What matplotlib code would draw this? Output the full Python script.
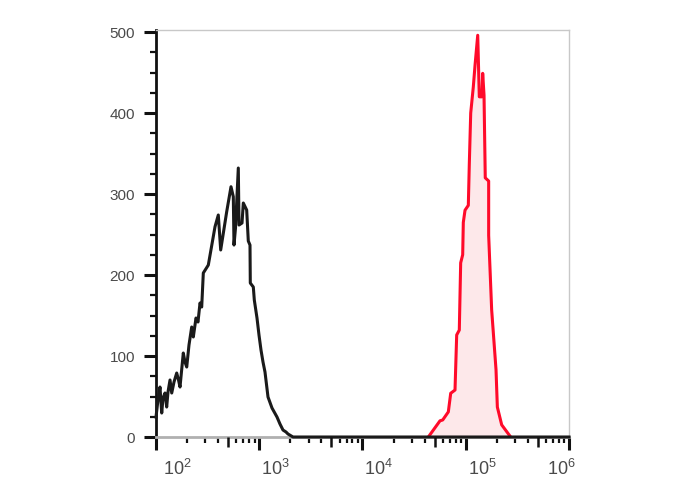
import numpy as np
import matplotlib
matplotlib.use("Agg")
import matplotlib.pyplot as plt
from matplotlib.ticker import FixedLocator, MultipleLocator, NullFormatter
from matplotlib.transforms import ScaledTranslation

# control (black) histogram
ctrl_x = [100, 104.5, 109.3, 113.6, 116.9, 122.2, 126.9, 130.7, 136.7, 142.0,
          149.4, 158.7, 165.2, 170.8, 183.8, 190.9, 198.4, 208.7, 221.7, 229.8,
          244.0, 255.1, 266.8, 277.1, 287.2, 321.1, 372.8, 401.2, 423.2, 483.8,
          532.6, 560.7, 569.4, 588.8, 626.8, 636.8, 680.8, 700.9, 755.8, 783.2,
          813.5, 819.0, 875.9, 895.7, 951.0, 994.4, 1039.7, 1087.2, 1136.8, 1215.5,
          1328.9, 1485.4, 1588.5, 1698.2, 1815.6, 1898.6, 2123.5, 1e6]
ctrl_y = [24.7, 45.7, 61.7, 29.6, 48.1, 54.3, 37.0, 55.6, 70.4, 54.3,
          67.9, 79.0, 70.4, 61.7, 103.7, 92.6, 86.4, 113.6, 135.8, 123.5,
          146.9, 142.0, 165.4, 160.5, 202.5, 212.3, 259.6, 274.1, 230.9, 278.1,
          309.0, 296.7, 237.0, 258.0, 332.1, 261.7, 264.2, 288.9, 280.2, 242.0,
          237.0, 190.1, 185.2, 169.1, 146.9, 125.9, 107.4, 92.6, 80.2, 49.4,
          35.8, 24.7, 16.0, 8.6, 6.2, 3.7, 0, 0]

# stained sample (red) histogram
stain_x = [43400, 56300, 59800, 67800, 71500, 78700, 81700, 86600, 89300, 93400,
           94700, 98400, 105900, 108200, 111700, 118300, 123000, 130600, 135300, 143600,
           145900, 150300, 154500, 166700, 166700, 178200, 196400, 202300, 222900, 272300]
stain_y = [0, 20, 21, 31, 54, 58, 126, 132, 215, 225,
           265, 280, 286, 336, 400, 432, 459, 496, 420, 420,
           449, 422, 320, 316, 249, 157, 83, 37, 15, 0]

x_ticks = [1e2, 1e3, 1e4, 1e5, 1e6]
x_labels = [r"$10^{2}$", r"$10^{3}$", r"$10^{4}$", r"$10^{5}$", r"$10^{6}$"]
y_ticks = [0, 100, 200, 300, 400, 500]

plt.rcParams['font.family'] = ['Liberation Sans', 'DejaVu Sans']
plt.rcParams['mathtext.fontset'] = 'custom'
plt.rcParams['mathtext.rm'] = 'Liberation Sans'
plt.rcParams['mathtext.it'] = 'Liberation Sans'

fig = plt.figure(figsize=(6.88, 4.90), dpi=100)
ax = fig.add_axes([156 / 688, 53 / 490, 413 / 688, 407 / 490])

ax.fill_between(stain_x, stain_y, 0, color='#fde8ea', zorder=1)
ax.plot(ctrl_x, ctrl_y, color='#1a1a1a', lw=2.2, zorder=3, clip_on=False)
ax.plot(stain_x, stain_y, color='#ff0a2a', lw=2.2, zorder=2)

ax.set_xscale('log')
ax.set_xlim(1e2, 1e6)
ax.set_ylim(0, 502.5)

ax.xaxis.set_major_locator(FixedLocator(x_ticks))
ax.set_xticklabels(x_labels)
ax.xaxis.set_minor_locator(FixedLocator(
    [m * 10 ** e for e in range(2, 6) for m in (2, 3, 4, 6, 7, 8, 9)]))
ax.xaxis.set_minor_formatter(NullFormatter())
ax.yaxis.set_major_locator(FixedLocator(y_ticks))
ax.yaxis.set_minor_locator(MultipleLocator(25))

ax.tick_params(axis='both', which='major', length=9, width=2.2, color='#111111',
               labelcolor='#4a4a4a')
ax.tick_params(axis='x', which='major', pad=7, labelsize=13)
ax.tick_params(axis='y', which='major', pad=6, labelsize=11)
ax.tick_params(axis='both', which='minor', length=4.5, width=1.6, color='#111111')

# tick labels sit a little to the right of their tick
offsets = [7, 2, 2, 2, -22]
for lab, dx in zip(ax.get_xticklabels(), offsets):
    lab.set_horizontalalignment('left')
    lab.set_transform(lab.get_transform() + ScaledTranslation(dx / 100, 0, fig.dpi_scale_trans))

# medium ticks at 5 x 10^n
ax5 = ax.twiny()
ax5.set_xscale('log')
ax5.set_xlim(ax.get_xlim())
ax5.xaxis.set_major_locator(FixedLocator([5 * 10 ** e for e in range(2, 6)]))
ax5.xaxis.set_minor_locator(FixedLocator([]))
ax5.tick_params(axis='x', which='major', bottom=True, top=False, labelbottom=False,
                labeltop=False, length=7, width=1.8, color='#111111')
for s in ax5.spines.values():
    s.set_visible(False)

ax.spines['left'].set_color('#111111')
ax.spines['left'].set_linewidth(2)
ax.spines['bottom'].set_color('#b0b0b0')
ax.spines['bottom'].set_linewidth(2)
for side in ('top', 'right'):
    ax.spines[side].set_color('#c8c8c8')
    ax.spines[side].set_linewidth(1)

fig.savefig('out.png', dpi=100)
